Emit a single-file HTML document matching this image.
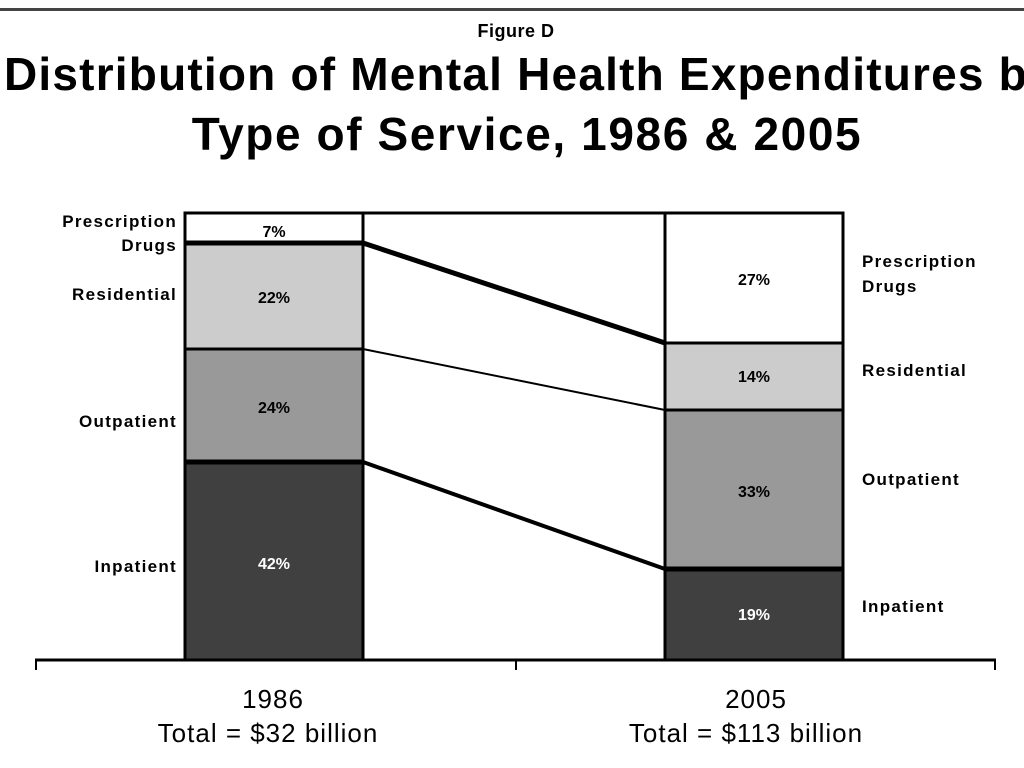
<!DOCTYPE html>
<html><head><style>
body{margin:0;width:1024px;height:768px;background:#fff;overflow:hidden;position:relative;font-family:"Liberation Sans",Arial,sans-serif;}
.t{position:absolute;white-space:nowrap;color:#000;}
</style></head><body>
<div style="position:absolute;left:0;top:8px;width:1024px;height:3px;background:#444"></div>
<div class="t" style="left:0;width:1032px;text-align:center;top:21px;font-size:18px;font-weight:bold;letter-spacing:0.5px;">Figure D</div>
<div class="t" style="left:4px;top:47px;font-size:46px;font-weight:bold;letter-spacing:1.2px;">Distribution of Mental Health Expenditures by</div>
<div class="t" style="left:0;width:1054px;text-align:center;top:107px;font-size:46px;font-weight:bold;letter-spacing:1.6px;">Type of Service, 1986 &amp; 2005</div>
<svg width="1024" height="768" style="position:absolute;left:0;top:0">
<g stroke="#000" stroke-width="3">
<rect x="185" y="213" width="178" height="30" fill="#fff"/>
<rect x="185" y="243" width="178" height="106" fill="#ccc"/>
<rect x="185" y="349" width="178" height="113" fill="#999"/>
<rect x="185" y="462" width="178" height="198" fill="#404040"/>
<rect x="665" y="213" width="178" height="130" fill="#fff"/>
<rect x="665" y="343" width="178" height="67" fill="#ccc"/>
<rect x="665" y="410" width="178" height="159" fill="#999"/>
<rect x="665" y="569" width="178" height="91" fill="#404040"/>
<line x1="363" y1="213" x2="665" y2="213"/>
<line x1="185" y1="243" x2="363" y2="243" stroke-width="5"/>
<line x1="185" y1="462" x2="363" y2="462" stroke-width="5"/>
<line x1="665" y1="569" x2="843" y2="569" stroke-width="5"/>
<line x1="363" y1="243" x2="665" y2="343" stroke-width="5"/>
<line x1="363" y1="349" x2="665" y2="410" stroke-width="2"/>
<line x1="363" y1="462" x2="665" y2="569" stroke-width="4"/>
<line x1="35" y1="660" x2="996" y2="660"/>
<line x1="36" y1="660" x2="36" y2="670" stroke-width="2"/>
<line x1="516" y1="660" x2="516" y2="670" stroke-width="2"/>
<line x1="995" y1="660" x2="995" y2="670" stroke-width="2"/>
</g>
<g font-family="Liberation Sans, Arial, sans-serif" font-size="16" font-weight="bold" text-anchor="middle">
<text x="274" y="237">7%</text>
<text x="274" y="303">22%</text>
<text x="274" y="413">24%</text>
<text x="274" y="569" fill="#fff">42%</text>
<text x="754" y="285">27%</text>
<text x="754" y="382">14%</text>
<text x="754" y="497">33%</text>
<text x="754" y="620" fill="#fff">19%</text>
</g>
<g font-family="Liberation Sans, Arial, sans-serif" font-size="17" font-weight="bold" letter-spacing="1.3" text-anchor="end">
<text x="177" y="227">Prescription</text>
<text x="177" y="251">Drugs</text>
<text x="177" y="300">Residential</text>
<text x="177" y="427">Outpatient</text>
<text x="177" y="572">Inpatient</text>
</g>
<g font-family="Liberation Sans, Arial, sans-serif" font-size="17" font-weight="bold" letter-spacing="1.3">
<text x="862" y="267">Prescription</text>
<text x="862" y="292">Drugs</text>
<text x="862" y="376">Residential</text>
<text x="862" y="485">Outpatient</text>
<text x="862" y="612">Inpatient</text>
</g>
<g font-family="Liberation Sans, Arial, sans-serif" font-size="26" letter-spacing="1" text-anchor="middle">
<text x="273" y="708">1986</text>
<text x="268" y="742">Total = $32 billion</text>
<text x="756" y="708">2005</text>
<text x="746" y="742">Total = $113 billion</text>
</g>
</svg>
</body></html>
